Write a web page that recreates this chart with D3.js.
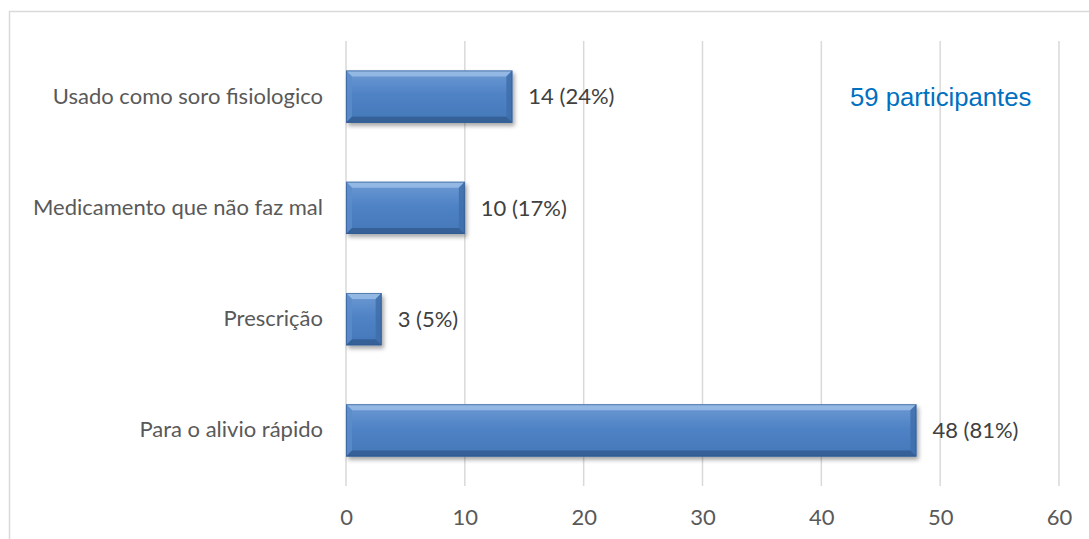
<!DOCTYPE html>
<html>
<head>
<meta charset="utf-8">
<script src="https://cdn.jsdelivr.net/npm/d3@7"></script>
<style>
  body { margin: 0; background: #fff; }
  svg { display: block; }
</style>
</head>
<body>
<script>
// Chart data
const categories = ["Usado como soro fisiologico", "Medicamento que não faz mal", "Prescrição", "Para o alivio rápido"];
const counts = [14, 10, 3, 48];
const percents = ["24%", "17%", "5%", "81%"];
const xTicks = [0, 10, 20, 30, 40, 50, 60];
const note = "59 participantes";

const w = 1089;
const h = 539;
const font = "Lato, 'Open Sans', sans-serif";
const fs = 22;

const svg = d3.select("body").append("svg").attr("width", w).attr("height", h);

// Frame around the chart area
svg.append("rect")
	.attr("x", 9.5)
	.attr("y", 11.5)
	.attr("width", 1100)
	.attr("height", 600)
	.attr("fill", "none")
	.attr("stroke", "#d9d9d9")
	.attr("stroke-width", 1.5);

// Scales
const xScale = d3.scaleLinear().domain([0, 60]).range([346, 1059]);
const yScale = d3.scaleBand().domain(categories).range([41, 486]).paddingInner(0.53).paddingOuter(0.265);

// Defs: gradient and shadow for the bevelled bars
const defs = svg.append("defs");
const grad = defs.append("linearGradient").attr("id", "barGrad").attr("x1", 0).attr("y1", 0).attr("x2", 0).attr("y2", 1);
grad.append("stop").attr("offset", "0%").attr("stop-color", "#6e9ad3");
grad.append("stop").attr("offset", "45%").attr("stop-color", "#4f83c6");
grad.append("stop").attr("offset", "100%").attr("stop-color", "#4477b8");

const shadow = defs.append("filter").attr("id", "shadow").attr("x", "-10%").attr("y", "-20%").attr("width", "130%").attr("height", "160%");
shadow.append("feDropShadow").attr("dx", 2).attr("dy", 3).attr("stdDeviation", 2).attr("flood-color", "#000").attr("flood-opacity", 0.35);

// Gridlines
svg.append("g")
	.selectAll("line")
	.data(xTicks)
	.enter()
	.append("line")
	.attr("x1", (d) => xScale(d))
	.attr("x2", (d) => xScale(d))
	.attr("y1", 41)
	.attr("y2", 486)
	.attr("stroke", "#d9d9d9")
	.attr("stroke-width", 1.5);

// X axis labels
const xAxis = d3.axisBottom(xScale).tickValues(xTicks).tickSize(0).tickPadding(0);
const gx = svg.append("g").attr("transform", "translate(0, 517)").call(xAxis);
gx.select(".domain").remove();
gx.selectAll("text")
	.attr("font-family", font)
	.attr("font-size", fs)
	.attr("fill", "#595959")
	.attr("dy", "0.35em");

// Y axis labels
const yAxis = d3.axisLeft(yScale).tickSize(0).tickPadding(23);
const gy = svg.append("g").attr("transform", "translate(346, 0)").call(yAxis);
gy.select(".domain").remove();
gy.selectAll("text")
	.attr("font-family", font)
	.attr("font-size", fs)
	.attr("fill", "#595959");

// Bars with a bevel
const b = 6;
const bars = svg.append("g")
	.selectAll("g")
	.data(categories)
	.enter()
	.append("g")
	.attr("filter", "url(#shadow)");

bars.each(function (d, i) {
	const g = d3.select(this);
	const x0 = xScale(0);
	const x1 = xScale(counts[i]);
	const y0 = yScale(d);
	const y1 = y0 + yScale.bandwidth();
	const bw = Math.min(b, (x1 - x0) / 2);
	g.append("rect")
		.attr("x", x0)
		.attr("y", y0)
		.attr("width", x1 - x0)
		.attr("height", y1 - y0)
		.attr("fill", "url(#barGrad)");
	// top edge
	g.append("polygon")
		.attr("points", [[x0, y0], [x1, y0], [x1 - bw, y0 + b], [x0 + bw, y0 + b]].join(" "))
		.attr("fill", "#9abde8")
		.attr("opacity", 0.85);
	// left edge
	g.append("polygon")
		.attr("points", [[x0, y0], [x0 + bw, y0 + b], [x0 + bw, y1 - b], [x0, y1]].join(" "))
		.attr("fill", "#5d8ccb")
		.attr("opacity", 0.8);
	// right edge
	g.append("polygon")
		.attr("points", [[x1, y0], [x1, y1], [x1 - bw, y1 - b], [x1 - bw, y0 + b]].join(" "))
		.attr("fill", "#3f6eaa")
		.attr("opacity", 0.85);
	// bottom edge
	g.append("polygon")
		.attr("points", [[x0, y1], [x1, y1], [x1 - bw, y1 - b], [x0 + bw, y1 - b]].join(" "))
		.attr("fill", "#345e95")
		.attr("opacity", 0.9);
	g.append("rect")
		.attr("x", x0 + 0.5)
		.attr("y", y0 + 0.5)
		.attr("width", x1 - x0 - 1)
		.attr("height", y1 - y0 - 1)
		.attr("fill", "none")
		.attr("stroke", "#2f578c")
		.attr("stroke-opacity", 0.6);
});

// Value labels
svg.append("g")
	.selectAll("text")
	.data(categories)
	.enter()
	.append("text")
	.attr("x", (d, i) => xScale(counts[i]) + 16)
	.attr("y", (d) => yScale(d) + yScale.bandwidth() / 2)
	.attr("dy", "0.35em")
	.attr("font-family", font)
	.attr("font-size", fs)
	.attr("fill", "#404040")
	.text((d, i) => `${counts[i]} (${percents[i]})`);

// Participants note
svg.append("text")
	.attr("x", 850)
	.attr("y", 106)
	.attr("font-family", "'Liberation Sans', Arial, sans-serif")
	.attr("font-size", 25.7)
	.attr("fill", "#0070c0")
	.text(note);
</script>
</body>
</html>
